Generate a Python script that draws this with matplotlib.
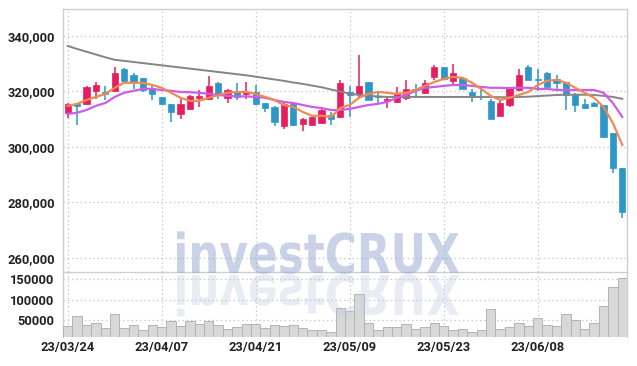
import matplotlib
matplotlib.use('Agg')

import matplotlib.pyplot as plt
from matplotlib.ticker import FuncFormatter
from matplotlib.textpath import TextPath
from matplotlib.patches import PathPatch
from matplotlib.transforms import Affine2D
from matplotlib.font_manager import FontProperties

# 데이터
dates = ['23/03/24', '23/04/07', '23/04/21', '23/05/09', '23/05/23', '23/06/08']
date_pos = [0, 10, 20, 30, 40, 50]

opens = [312300, 315300, 315500, 320200, 319800, 320200, 328100, 325900, 324900, 320900,
         318000, 315500, 311900, 313700, 317700, 317300, 323100, 317700, 319800, 319100,
         319800, 315800, 314400, 307600, 315500, 308300, 307900, 308600, 311500, 310800,
         319800, 319100, 323400, 318400, 316600, 316200, 317700, 320900, 319500, 325200,
         328800, 323800, 324900, 319800, 318400, 316600, 311200, 315100, 320500, 328800,
         324500, 326700, 324500, 323400, 319100, 315500, 315800, 315100, 305000, 292400]
closes = [315500, 314800, 321600, 322300, 319100, 326700, 323800, 323400, 320500, 319100,
          315500, 312600, 315500, 318400, 318400, 322000, 319100, 320500, 318000, 319800,
          315500, 314000, 309000, 315500, 307900, 310100, 310800, 313300, 310100, 323100,
          318700, 322000, 316900, 318000, 317300, 319500, 320900, 320500, 323100, 328800,
          324500, 326700, 320900, 318000, 318000, 310100, 315800, 321300, 325900, 324200,
          324200, 321600, 323100, 318700, 315100, 314000, 314800, 303600, 292400, 276600]
highs = [315800, 315500, 321900, 323400, 322000, 328800, 328500, 326700, 324900, 322300,
         318000, 315500, 318000, 318700, 320500, 325600, 323400, 320900, 323100, 323400,
         322300, 315800, 314800, 315800, 315800, 310400, 310800, 314000, 312600, 324200,
         322000, 333200, 323400, 320200, 318400, 321600, 324200, 322700, 324200, 329500,
         328800, 329900, 325200, 320900, 320900, 317300, 316600, 321600, 328100, 329500,
         328100, 327000, 325900, 323400, 319500, 317300, 316200, 315100, 305000, 292400]
lows = [310500, 308000, 315100, 317300, 317000, 319800, 323400, 320900, 319800, 316900,
        315100, 309000, 310100, 313300, 314400, 316900, 317300, 315800, 316900, 317300,
        315100, 312600, 307600, 306500, 307600, 305800, 307600, 308300, 307900, 310400,
        310800, 318000, 316900, 315100, 314000, 315800, 316900, 318000, 319100, 324200,
        324500, 322000, 320900, 316200, 316900, 310100, 311200, 314400, 320200, 324200,
        320200, 321600, 320200, 313300, 312600, 313700, 314400, 303200, 290600, 274400]
volumes = [35300, 59800, 37700, 41900, 30300, 64700, 30300, 37700, 25400, 37700,
           32800, 47500, 35300, 47500, 40200, 47500, 37700, 27900, 32800, 40200,
           40200, 30300, 37700, 35300, 37700, 30300, 25400, 25400, 19800, 78700,
           72900, 113000, 41900, 24700, 32000, 32000, 39300, 27000, 32000, 41900,
           35300, 24700, 27000, 19800, 24700, 76200, 27000, 32000, 41900, 35300,
           54200, 37000, 34500, 64000, 49300, 27000, 41900, 83600, 130000, 152000]

# 이동평균선
ma_short = [314800, 315500, 316900, 318000, 319100, 321300, 323100, 323100, 323100, 322300,
            321300, 319500, 317700, 316600, 316600, 317700, 318700, 319500, 319800, 319800,
            319100, 318000, 316900, 315100, 314400, 312600, 311200, 311200, 310800, 314000,
            315100, 317700, 319100, 319800, 319500, 319100, 319500, 320500, 322000, 323400,
            324500, 325200, 324900, 323100, 320900, 318400, 316900, 317700, 318700, 319800,
            322300, 323800, 324200, 323100, 321300, 319500, 317700, 314400, 308600, 300700]
ma_mid = [311900, 312300, 313300, 314800, 315800, 318000, 319500, 320200, 320900, 320900,
          320500, 320200, 319800, 319700, 319500, 319100, 318700, 318400, 318200, 318200,
          318000, 317700, 316900, 316200, 315800, 315100, 314400, 314000, 313300, 313300,
          313700, 314400, 315100, 315500, 316200, 317700, 318700, 320200, 321300, 321600,
          322000, 322300, 322300, 322000, 321600, 321300, 321300, 321200, 321300, 321300,
          320900, 320900, 320500, 320500, 320500, 320500, 320500, 319500, 315800, 310800]
ma_long = [336400, 335300, 334300, 333300, 332300, 331400, 331000, 330600, 330200, 329800,
           329400, 329000, 328600, 328200, 327800, 327400, 327000, 326600, 326200, 325800,
           325300, 324800, 324300, 323800, 323200, 322700, 322100, 321500, 320700, 319900,
           319200, 318700, 318400, 318200, 318000, 318000, 318000, 318000, 318000, 318000,
           318000, 318000, 318000, 318000, 318000, 318000, 317900, 317900, 318000, 318100,
           318300, 318500, 318700, 318800, 318800, 318800, 318700, 318400, 318000, 317300]

UP = '#e61e5f'
DOWN = '#2f96c8'
GRID = '#c5c9dd'
SPINE = '#cfcfcf'
TXT = '#222222'

plt.rcParams['font.family'] = ['Roboto', 'DejaVu Sans']
plt.rcParams['font.weight'] = 'bold'

fig = plt.figure(figsize=(6.37, 3.66), dpi=100)
W, H = 637, 366
ax = fig.add_axes([63 / W, 94 / H, 564 / W, 263 / H])
axv = fig.add_axes([63 / W, 29 / H, 564 / W, 65 / H], sharex=ax)

n = len(opens)
xs = list(range(n))

# 캔들
for i in xs:
    o, c, h, l = opens[i], closes[i], highs[i], lows[i]
    col = UP if c >= o else DOWN
    ax.vlines(i, l, h, color=col, linewidth=1.1, zorder=3)
    bottom = min(o, c)
    height = max(abs(c - o), 250)
    ax.bar(i, height, bottom=bottom, width=0.68, color=col, edgecolor=col,
           linewidth=0.5, zorder=4)

ax.plot(xs, ma_long, color='#858585', linewidth=1.4, zorder=5)
ax.plot(xs, ma_mid, color='#cf5ce8', linewidth=1.6, zorder=5)
ax.plot(xs, ma_short, color='#ee8a52', linewidth=1.6, zorder=6)

ax.set_xlim(-0.5, n - 0.5)
ax.set_ylim(254900, 349700)
ax.set_yticks([260000, 280000, 300000, 320000, 340000])
ax.yaxis.set_major_formatter(FuncFormatter(lambda v, p: '{:,.0f}'.format(v)))
ax.set_xticks(date_pos)
ax.tick_params(axis='x', labelbottom=False, length=0)
ax.tick_params(axis='y', length=0, pad=6, labelsize=9.3, labelcolor=TXT)
ax.grid(True, color=GRID, linestyle=(0, (1.2, 2.2)), linewidth=0.9)
ax.set_axisbelow(True)

# 거래량
axv.bar(xs, volumes, width=1.0, color='#d8d8d8', edgecolor='#b4b4b4', linewidth=0.7, zorder=3)
axv.set_ylim(7500, 168000)
axv.set_yticks([50000, 100000, 150000])
axv.yaxis.set_major_formatter(FuncFormatter(lambda v, p: '%d' % v))
axv.set_xticks(date_pos)
axv.set_xticklabels(dates)
axv.tick_params(axis='x', length=0, pad=3, labelsize=9.3, labelcolor=TXT)
axv.tick_params(axis='y', length=0, pad=6, labelsize=9.3, labelcolor=TXT)
axv.grid(True, color=GRID, linestyle=(0, (1.2, 2.2)), linewidth=0.9)
axv.set_axisbelow(True)

for a in (ax, axv):
    for s in a.spines.values():
        s.set_color(SPINE)
        s.set_linewidth(1.0)
    a.spines['bottom'].set_visible(False)
axv.spines['top'].set_visible(True)

# 워터마크
tp = TextPath((0, 0), 'investCRUX', size=1,
              prop=FontProperties(family='DejaVu Sans', weight='bold'))
bb = tp.get_extents()
sx = 282 / bb.width
sy = 40 / 0.73
to_fig = Affine2D().scale(1 / W, 1 / H) + fig.transFigure
t_up = Affine2D().translate(-bb.x0, 0).scale(sx, sy).translate(177, 93) + to_fig
t_dn = Affine2D().translate(-bb.x0, 0).scale(sx, -sy).translate(177, 91) + to_fig
fig.add_artist(PathPatch(tp, transform=t_up, facecolor='#97a6d0', edgecolor='none',
                         alpha=0.5, zorder=10))
fig.add_artist(PathPatch(tp, transform=t_dn, facecolor='#c4cadf', edgecolor='none',
                         alpha=0.35, zorder=10))

fig.savefig('out.png', dpi=100)
